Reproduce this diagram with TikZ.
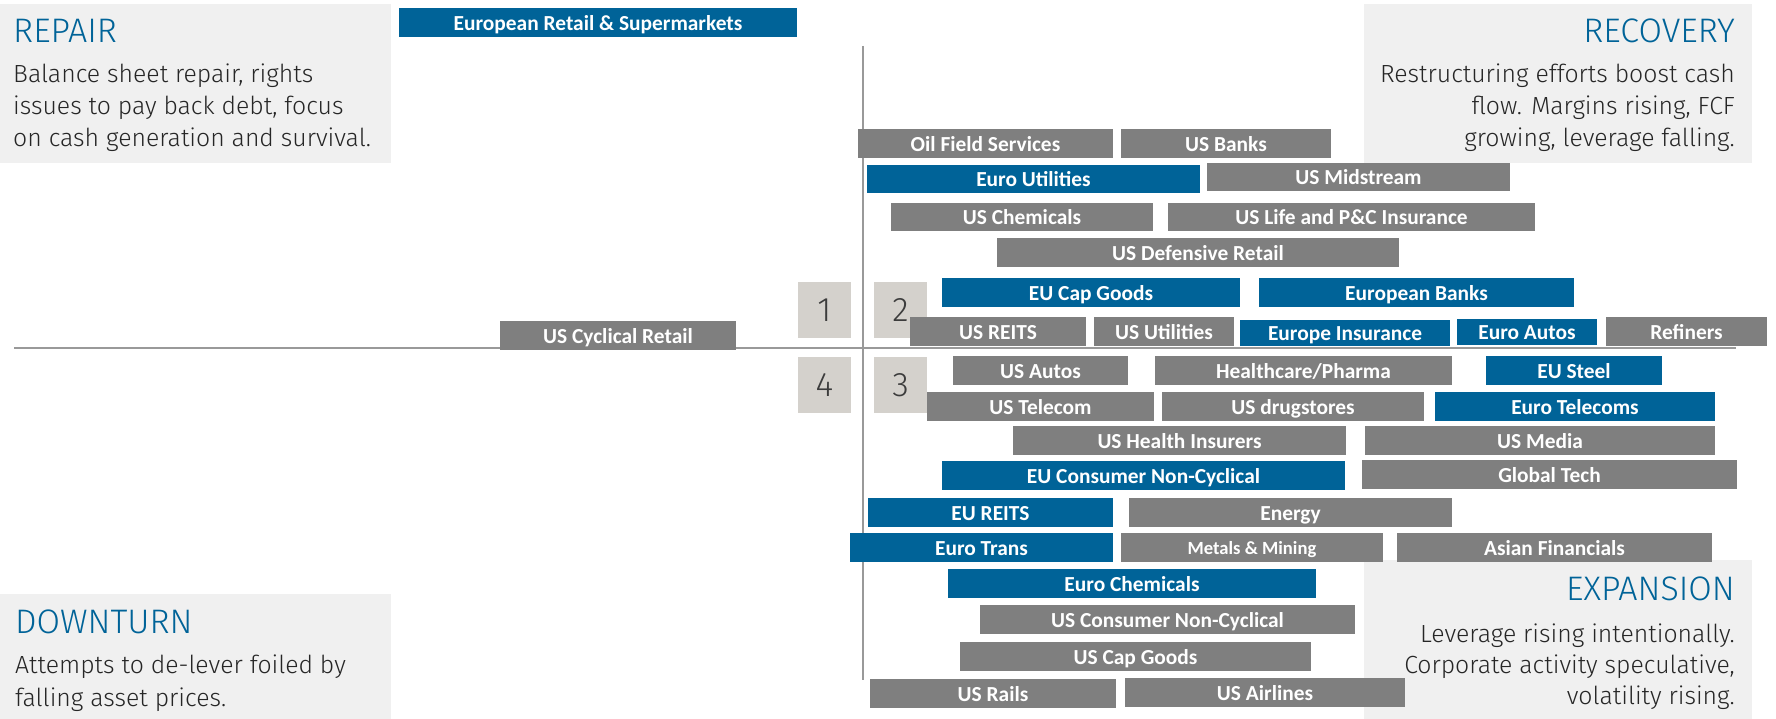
\documentclass[tikz,border=0pt]{standalone}
\usepackage{fontspec}
\setmainfont{Carlito}
\IfFontExistsTF{Fira Sans Light}
  {\newfontfamily\thinfont{Fira Sans Light}}
  {\newfontfamily\thinfont{Fira Sans}}

\definecolor{cycleblue}{HTML}{006398}
\definecolor{bargray}{HTML}{7F7F7F}
\definecolor{panelgray}{HTML}{F0F0F0}
\definecolor{tagstone}{HTML}{D4D1CC}
\definecolor{inktext}{HTML}{262626}
\definecolor{axisgray}{HTML}{999999}

% one sector bar: name, style, x1, y1, x2, y2, label
\newcommand{\sectorbar}[7]{%
  \node[#2, minimum width={(#5-#3)*1pt}, minimum height={(#6-#4)*1pt}]
    (#1) at ({(#3+#5)/2},{(#4+#6)/2}) {#7};}

\begin{document}
\begin{tikzpicture}[
    x=1pt, y=-1pt, % pixel grid, y downwards
    bar/.style={inner sep=0pt, outer sep=0pt, text=white,
      font=\fontsize{21.4}{23}\selectfont\bfseries,
      text height=15.5pt, text depth=0pt},
    bluebar/.style={bar, fill=cycleblue},
    graybar/.style={bar, fill=bargray},
    tag/.style={fill=tagstone, inner sep=0pt, minimum width=53pt,
      minimum height=56pt, text=inktext!90,
      font=\thinfont\fontsize{34}{36}\selectfont,
      text height=23pt, text depth=0pt},
    phase/.style={text=cycleblue, inner sep=0pt,
      font=\thinfont\fontsize{34}{36}\selectfont},
    blurb/.style={text=inktext, inner sep=0pt,
      font=\thinfont\fontsize{24.8}{#1}\selectfont},
    blurb/.default=32,
    axis/.style={axisgray, line width=1.6pt},
  ]
  \useasboundingbox (0,0) rectangle (1776,719);

  % Quadrant panels
  \fill[panelgray] (0,4) rectangle (391,163);
  \fill[panelgray] (1364,4) rectangle (1752,163);
  \fill[panelgray] (0,594) rectangle (391,719);
  \fill[panelgray] (1364,560) rectangle (1752,719);

  % anchors sit on the last line of each text
  \node[phase, anchor=base west] (repair) at (13,43) {REPAIR};
  \node[blurb, anchor=base west, align=left] (repairtxt) at (13,147)
    {Balance sheet repair, rights\\issues to pay back debt, focus\\on cash generation and survival.};
  \node[phase, anchor=base east] (recovery) at (1735,43) {RECOVERY};
  \node[blurb, anchor=base east, align=right] (recoverytxt) at (1735,147)
    {Restructuring efforts boost cash\\flow. Margins rising, FCF\\growing, leverage falling.};
  \node[phase, anchor=base west] (downturn) at (15,633) {DOWNTURN};
  \node[blurb=33, anchor=base west, align=left] (downturntxt) at (15,706)
    {Attempts to de-lever foiled by\\falling asset prices.};
  \node[phase, anchor=base east] (expansion) at (1735,600) {EXPANSION};
  \node[blurb=31, anchor=base east, align=right] (expansiontxt) at (1735,704)
    {Leverage rising intentionally.\\Corporate activity speculative,\\volatility rising.};

  % Axes
  \coordinate (west) at (14,348);
  \coordinate (east) at (1736,348);
  \coordinate (north) at (863,46);
  \coordinate (south) at (863,680);
  \draw[axis] (west) -- (east);
  \draw[axis] (north) -- (south);

  % Quadrant numbers
  \node[tag] (tag1) at (824.5,310) {1};
  \node[tag] (tag2) at (900.5,310) {2};
  \node[tag] (tag3) at (900.5,385) {3};
  \node[tag] (tag4) at (824.5,385) {4};

  % Sectors
  \sectorbar{euretail}{bluebar}{399}{8}{797}{37}{European Retail \& Supermarkets}
  \sectorbar{oilfield}{graybar}{858}{129}{1113}{158}{Oil Field Services}
  \sectorbar{usbanks}{graybar}{1121}{129}{1331}{158}{US Banks}
  \sectorbar{euutil}{bluebar}{867}{165}{1200}{193}{Euro Utilities}
  \sectorbar{usmid}{graybar}{1207}{163}{1510}{191}{US Midstream}
  \sectorbar{uschem}{graybar}{891}{203}{1153}{231}{US Chemicals}
  \sectorbar{uslife}{graybar}{1168}{203}{1535}{231}{US Life and P\&C Insurance}
  \sectorbar{usdefret}{graybar}{997}{238}{1399}{267}{US Defensive Retail}
  \sectorbar{eucapg}{bluebar}{942}{278}{1240}{307}{EU Cap Goods}
  \sectorbar{eubanks}{bluebar}{1259}{278}{1574}{307}{European Banks}
  \sectorbar{uscycret}{graybar}{500}{321}{736}{350}{US Cyclical Retail}
  \sectorbar{usreits}{graybar}{910}{317}{1086}{346}{US REITS}
  \sectorbar{usutil}{graybar}{1094}{317}{1234}{346}{US Utilities}
  \sectorbar{euins}{bluebar}{1240}{320}{1450}{346}{Europe Insurance}
  \sectorbar{euautos}{bluebar}{1457}{319}{1597}{345}{Euro Autos}
  \sectorbar{refiners}{graybar}{1606}{317}{1767}{346}{Refiners}
  \sectorbar{usautos}{graybar}{953}{356}{1128}{385}{US Autos}
  \sectorbar{pharma}{graybar}{1155}{356}{1452}{385}{Healthcare/Pharma}
  \sectorbar{eusteel}{bluebar}{1486}{356}{1662}{385}{EU Steel}
  \sectorbar{ustel}{graybar}{927}{392}{1154}{421}{US Telecom}
  \sectorbar{usdrug}{graybar}{1162}{392}{1424}{421}{US drugstores}
  \sectorbar{eutel}{bluebar}{1435}{392}{1715}{421}{Euro Telecoms}
  \sectorbar{ushealth}{graybar}{1013}{426}{1346}{455}{US Health Insurers}
  \sectorbar{usmedia}{graybar}{1365}{426}{1715}{455}{US Media}
  \sectorbar{euconsnc}{bluebar}{942}{461}{1345}{490}{EU Consumer Non-Cyclical}
  \sectorbar{globtech}{graybar}{1362}{460}{1737}{489}{Global Tech}
  \sectorbar{eureits}{bluebar}{868}{498}{1113}{527}{EU REITS}
  \sectorbar{energy}{graybar}{1129}{498}{1452}{527}{Energy}
  \sectorbar{eutrans}{bluebar}{850}{533}{1113}{562}{Euro Trans}
  \sectorbar{metals}{graybar, font=\fontsize{18.6}{20}\selectfont\bfseries, text height=13pt}{1121}{533}{1383}{562}{Metals \& Mining}
  \sectorbar{asianfin}{graybar}{1397}{533}{1712}{562}{Asian Financials}
  \sectorbar{euchem}{bluebar}{948}{569}{1316}{598}{Euro Chemicals}
  \sectorbar{usconsnc}{graybar}{980}{605}{1355}{634}{US Consumer Non-Cyclical}
  \sectorbar{uscapg}{graybar}{960}{642}{1311}{671}{US Cap Goods}
  \sectorbar{usrails}{graybar}{870}{679}{1116}{708}{US Rails}
  \sectorbar{usair}{graybar}{1125}{678}{1405}{707}{US Airlines}
\end{tikzpicture}
\end{document}
